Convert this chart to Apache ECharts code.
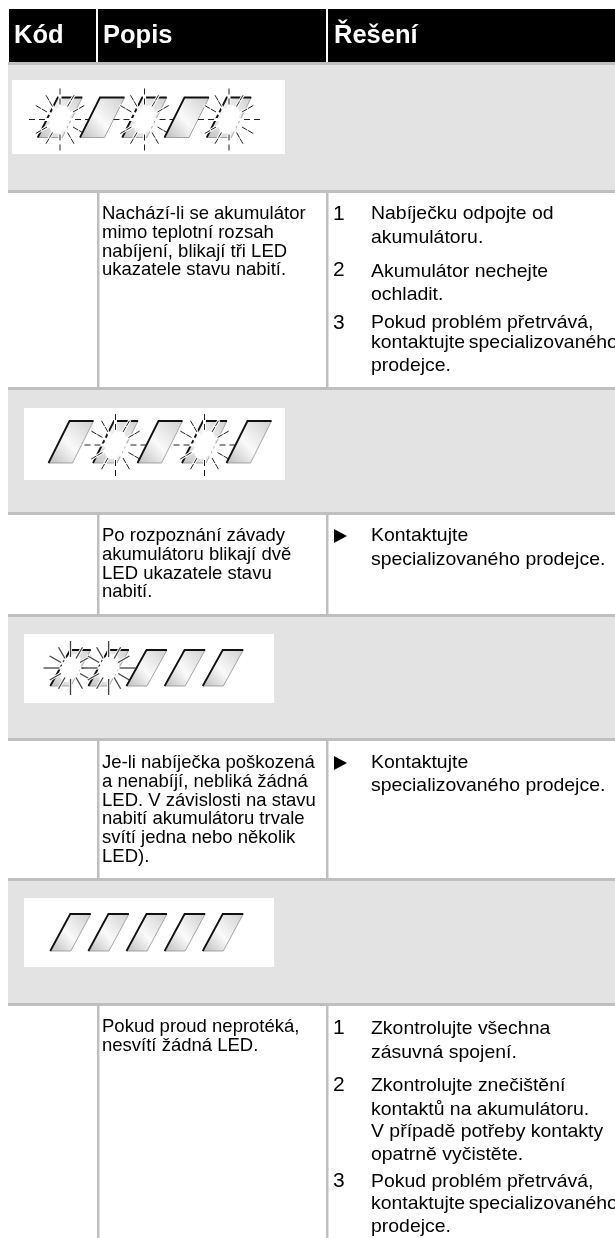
<!DOCTYPE html>
<html>
<head>
<meta charset="utf-8">
<script src="https://cdn.jsdelivr.net/npm/echarts@6/dist/echarts.min.js"></script>
<style>html,body{margin:0;padding:0;background:#fff}</style>
</head>
<body>
<div id="main" style="width:615px;height:1238px;"></div>
<script>
// table content
var headers = ["Kód", "Popis", "Řešení"];

// 1 = blinking LED, 0 = dark LED, one row per code
var ledStates = [
    [1, 0, 1, 0, 1],
    [0, 1, 0, 1, 0],
    [1, 1, 0, 0, 0],
    [0, 0, 0, 0, 0]
];

var descriptions = [
    ["Nachází-li se akumulátor", "mimo teplotní rozsah", "nabíjení, blikají tři LED", "ukazatele stavu nabití."],
    ["Po rozpoznání závady", "akumulátoru blikají dvě", "LED ukazatele stavu", "nabití."],
    ["Je-li nabíječka poškozená", "a nenabíjí, nebliká žádná", "LED. V závislosti na stavu", "nabití akumulátoru trvale", "svítí jedna nebo několik", "LED)."],
    ["Pokud proud neprotéká,", "nesvítí žádná LED."]
];

var stepMarks = [["1", "2", "3"], ["▶"], ["▶"], ["1", "2", "3"]];

var stepLines = [
    [["Nabíječku odpojte od", "akumulátoru."], ["Akumulátor nechejte", "ochladit."], ["Pokud problém přetrvává,", "kontaktujte\u2009specializovaného", "prodejce."]],
    [["Kontaktujte", "specializovaného prodejce."]],
    [["Kontaktujte", "specializovaného prodejce."]],
    [["Zkontrolujte všechna", "zásuvná spojení."], ["Zkontrolujte znečištění", "kontaktů na akumulátoru.", "V případě potřeby kontakty", "opatrně vyčistěte."], ["Pokud problém přetrvává,", "kontaktujte\u2009specializovaného", "prodejce."]]
];

// layout, in page pixels
var FONT = '"Liberation Sans", Arial, sans-serif';
var bands = [[62, 193], [387, 515], [614, 741], [878, 1006]];
var rowEnds = [387, 614, 878, 1238];
var descY = [214, 536, 763, 1027];
var stepY = [
    [[214, 238], [272, 295], [323, 343, 366]],
    [[536, 560]],
    [[763, 786]],
    [[1029, 1053], [1086, 1110, 1132, 1155], [1182, 1204, 1227]]
];
var markY = [[214, 270, 323], [536], [763], [1028, 1085, 1181]];
var boxes = [[12, 80, 273, 74], [24, 408, 261, 72], [24, 634, 250, 69], [24, 898, 250, 69]];
var strips = [
    {left: 60, right: 229, y: 117.5, w: 24.5, h: 40, slant: 20, dy: 2, long: false},
    {left: 71, right: 249, y: 442, w: 24, h: 42, slant: 21, dy: 3, long: false},
    {left: 70.5, right: 223, y: 668, w: 20.5, h: 36, slant: 20, dy: 0, long: true},
    {left: 70.5, right: 223, y: 932.5, w: 20.5, h: 37, slant: 20, dy: 0, long: false}
];

var graphics = [];

function rect(x, y, w, h, fill) {
    graphics.push({type: 'rect', shape: {x: x, y: y, width: w, height: h}, style: {fill: fill}, silent: true});
}
function label(str, x, y, size, weight, fill, sx) {
    graphics.push({
        type: 'text', x: x, y: y, scaleX: sx || 1, silent: true,
        style: {text: str, x: 0, y: 0, fill: fill || '#000', textVerticalAlign: 'middle', font: (weight || 'normal') + ' ' + size + 'px ' + FONT}
    });
}

// header
rect(9, 9, 606, 53, '#000');
rect(96, 9, 2, 53, '#fff');
rect(326, 9, 2, 53, '#fff');
label(headers[0], 14, 36, 25.5, 'bold', '#fff');
label(headers[1], 103, 36, 25.5, 'bold', '#fff');
label(headers[2], 334, 36, 25.5, 'bold', '#fff');

// grey bands with the LED pictures
bands.forEach(function (b, i) {
    rect(8, b[0], 607, b[1] - b[0], '#bfbfbf');
    rect(8, b[0] + 3, 607, b[1] - b[0] - 6, '#e3e3e3');
    rect(boxes[i][0], boxes[i][1], boxes[i][2], boxes[i][3], '#fff');
});

// rows
bands.forEach(function (b, i) {
    rect(97, b[1], 2.5, rowEnds[i] - b[1], '#bfbfbf');
    rect(326, b[1], 2.5, rowEnds[i] - b[1], '#bfbfbf');
    descriptions[i].forEach(function (line, k) {
        label(line, 102, descY[i] + k * 18.8, 18.5);
    });
    stepLines[i].forEach(function (group, g) {
        var mark = stepMarks[i][g];
        if (mark === "▶") {
            graphics.push({
                type: 'polygon', silent: true,
                shape: {points: [[334, markY[i][g] - 7], [347, markY[i][g]], [334, markY[i][g] + 7]]},
                style: {fill: '#000'}
            });
        } else {
            label(mark, 333, markY[i][g], 21);
        }
        group.forEach(function (line, k) {
            label(line, 371, stepY[i][g][k], 18.5, 'normal', '#000', 1.05);
        });
    });
});

// one LED: slanted plate, dark top and left edge, optional flash on top
function renderLed(strip, params, api) {
    var c = api.coord([api.value(0), 0.5]);
    var cx = c[0], cy = c[1];
    var hw = strip.w / 2, hh = strip.h / 2, sl = strip.slant / 2;
    var tl = [cx - hw + sl, cy - hh], tr = [cx + hw + sl, cy - hh];
    var br = [cx + hw - sl, cy + hh], bl = [cx - hw - sl, cy + hh];
    var kids = [
        {type: 'polygon', shape: {points: [tl, tr, br, bl]}, style: {
            stroke: '#8f8f8f', lineWidth: 0.8,
            fill: {type: 'linear', x: 0, y: 1, x2: 1, y2: 0, colorStops: [
                {offset: 0, color: '#bcbcbc'}, {offset: 0.45, color: '#fafafa'}, {offset: 1, color: '#cfcfcf'}
            ]}
        }},
        {type: 'polyline', shape: {points: [bl, tl, tr]}, style: {stroke: '#111', lineWidth: 1.8, fill: null}}
    ];
    if (api.value(1) === 1) {
        var fy = cy + strip.dy;
        var outer = strip.long ? 27 : 31;
        for (var a = 0; a < 12; a++) {
            var ang = a * Math.PI / 6, dx = Math.cos(ang), dy = Math.sin(ang);
            kids.push({type: 'line', shape: {x1: cx, y1: fy, x2: cx + dx * (outer - 2), y2: fy + dy * (outer - 2)}, style: {stroke: '#fff', lineWidth: 3}});
        }
        kids.push({type: 'ellipse', x: cx, y: fy, rotation: -0.46, shape: {cx: 0, cy: 0, rx: 9, ry: 15}, style: {fill: '#fff'}});
        for (var b = 0; b < 12; b++) {
            var an = b * Math.PI / 6, ux = Math.cos(an), uy = Math.sin(an);
            // horizontal and vertical rays are longer than the diagonal ones
            var ray = (b % 3 === 0) ? outer : outer - 3;
            if (strip.long) {
                kids.push({type: 'line', shape: {x1: cx + ux * 11, y1: fy + uy * 11, x2: cx + ux * ray, y2: fy + uy * ray}, style: {stroke: '#444', lineWidth: 1.3}});
            } else {
                kids.push({type: 'line', shape: {x1: cx + ux * 15, y1: fy + uy * 15, x2: cx + ux * 21, y2: fy + uy * 21}, style: {stroke: '#222', lineWidth: 1}});
                kids.push({type: 'line', shape: {x1: cx + ux * (ray - 6), y1: fy + uy * (ray - 6), x2: cx + ux * ray, y2: fy + uy * ray}, style: {stroke: '#222', lineWidth: 1}});
            }
        }
    }
    return {type: 'group', children: kids};
}

var grids = [], xAxes = [], yAxes = [], series = [];
strips.forEach(function (s, i) {
    grids.push({left: s.left, top: s.y - 1, width: s.right - s.left, height: 2});
    xAxes.push({type: 'value', gridIndex: i, min: 0, max: 4, show: false});
    yAxes.push({type: 'value', gridIndex: i, min: 0, max: 1, show: false});
    series.push({
        type: 'custom', xAxisIndex: i, yAxisIndex: i, silent: true, clip: false,
        data: ledStates[i].map(function (v, k) { return [k, v]; }),
        renderItem: function (params, api) { return renderLed(s, params, api); }
    });
});

var chartDom = document.getElementById('main');
var myChart = echarts.init(chartDom);
myChart.setOption({
    animation: false,
    backgroundColor: '#fff',
    grid: grids,
    xAxis: xAxes,
    yAxis: yAxes,
    graphic: {elements: graphics},
    series: series
});
</script>
</body>
</html>
